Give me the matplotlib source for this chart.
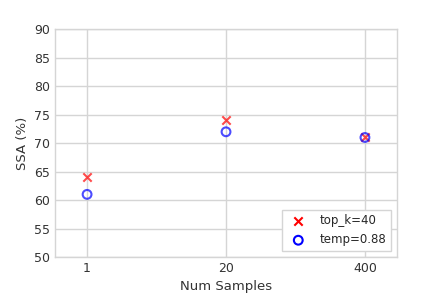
import numpy as np
import matplotlib
matplotlib.use('Agg')
import matplotlib.pyplot as plt

# Dados
amostras = ['1', '20', '400']
ssa_top_k = [64, 74, 71]
ssa_temp = [61, 72, 71]

plt.style.use('seaborn-v0_8-whitegrid')
plt.rcParams['font.family'] = ['DejaVu Sans']
plt.rcParams['font.size'] = 9
fig, ax = plt.subplots(figsize=(4.41, 2.94), dpi=100)
fig.subplots_adjust(left=0.125, right=0.9, bottom=0.126, top=0.9)

x = np.arange(len(amostras))
ax.scatter(x, ssa_top_k, marker='x', color='red', alpha=0.7, s=36, linewidths=1.5, label='top_k=40', zorder=3)
ax.scatter(x, ssa_temp, marker='o', facecolors='none', edgecolors='blue', alpha=0.7, s=40, linewidths=1.5, label='temp=0.88', zorder=3)

ax.set_xticks(x)
ax.set_xticklabels(amostras)
ax.set_xlim(-0.23, 2.23)
ax.set_ylim(50, 90)
ax.set_yticks(range(50, 91, 5))
ax.set_xlabel('Num Samples', color='#333333', fontsize=9.5)
ax.set_ylabel('SSA (%)', color='#333333', fontsize=9.5)
ax.tick_params(colors='#333333', labelsize=9)
ax.grid(True, color='#d5d5d5', linewidth=1)
for sp in ax.spines.values():
    sp.set_visible(True)
    sp.set_color('#d5d5d5')
    sp.set_linewidth(1)

leg = ax.legend(loc='lower right', frameon=True, fancybox=False, framealpha=1,
                edgecolor='#d5d5d5', fontsize=8.5)
for h in leg.legend_handles:
    h.set_alpha(1)

plt.savefig('out.png')
